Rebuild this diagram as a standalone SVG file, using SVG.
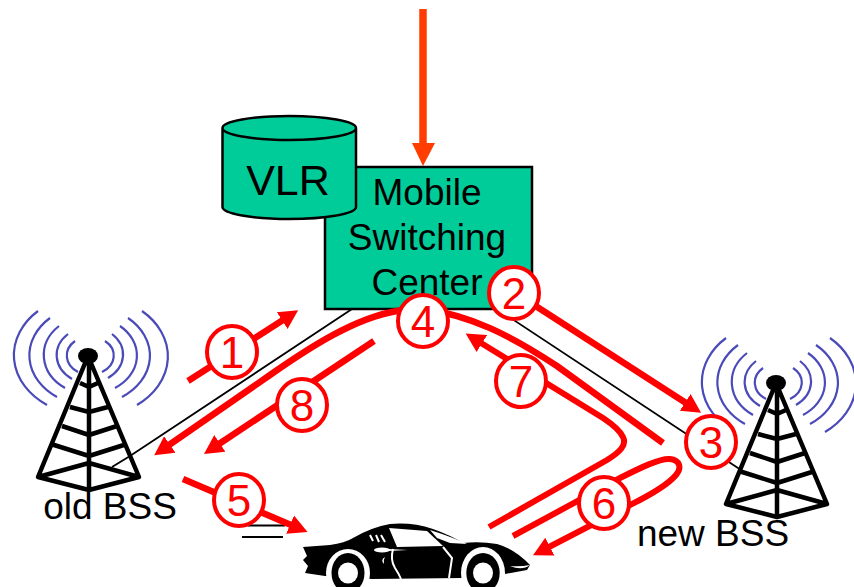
<svg xmlns="http://www.w3.org/2000/svg" width="854" height="587" viewBox="0 0 854 587">
<style>
text{font-family:"Liberation Sans",Arial,sans-serif;fill:#000}
.t{font-size:37px;text-anchor:middle}
.box{fill:#00cc99;stroke:#000;stroke-width:2.5}
.wave{fill:none;stroke:#4a4ab8;stroke-width:2.2}
.steel{fill:none;stroke:#000;stroke-width:4.500;stroke-linejoin:round}
.wire{stroke:#000;stroke-width:1.8;fill:none}
.red{fill:none;stroke:#f00;stroke-width:6.500;marker-end:url(#h)}
.plain{fill:none;stroke:#f00;stroke-width:6.500}
.c{fill:#fff;stroke:#f00;stroke-width:4}
.n{font-size:44px;text-anchor:middle;fill:#f00}
.w{fill:#fff;stroke:none}
.ws{fill:none;stroke:#fff;stroke-width:2}
</style>
<defs>
<marker id="h" markerUnits="userSpaceOnUse" markerWidth="22" markerHeight="22" refX="1" refY="11" orient="auto" viewBox="0 0 22 22"><path d="M0,1 L19,11 L0,21 Z" fill="#f00"/></marker>
<g id="tower">
<path class="wave" d="M75,341 A26 20 0 0 0 78,372 M68,334 A39 30 0 0 0 72,379 M59,326 A52 41 0 0 0 65,388 M50,318 A65 51 0 0 0 57,397 M38,311 A78 61 0 0 0 47,405"/>
<path class="wave" d="M105,341 A24 19 0 0 1 102,372 M112,334 A37 29 0 0 1 108,378 M120,326 A49 39 0 0 1 115,388 M128,318 A64 50 0 0 1 122,397 M142,311 A78 61 0 0 1 137,405"/>
<ellipse cx="88" cy="356" rx="10" ry="8" fill="#000"/>
<path class="steel" d="M88,356 L38,477 L89,490 L139,477 Z M89,356 V490 M38,477 L89,463 L139,477 M80,383 L89,387 L98,383 M70,407 L89,412 L108,407 M62,426 L89,435 L117,426 M51,444 L89,456 L127,444"/>
</g>
</defs>
<g id="connectors">
<path d="M423,9 V145" stroke="#ff3d00" stroke-width="7.500" fill="none"/>
<path d="M412,143 H435 L423,166 Z" fill="#ff3d00"/>
<path class="wire" d="M352,309 L130,456 L112,467"/>
<path class="wire" d="M497,309 L741,470"/>
<path class="wire" d="M248,525.500 H285 M242,537 H283"/>
</g>
<g id="msc">
<rect class="box" x="325" y="167" width="207" height="142"/>
<text class="t" x="427" y="205">Mobile</text>
<text class="t" x="427" y="250">Switching</text>
<text class="t" x="427" y="295">Center</text>
</g>
<g id="vlr">
<path class="box" d="M222.500,128 V207 A66.750 12 0 0 0 356,207 V128 A66.750 12 0 0 0 222.500,128 A66.750 12 0 0 0 356,128"/>
<text x="288" y="195" font-size="43" text-anchor="middle">VLR</text>
</g>
<g id="old-bss">
<use href="#tower"/>
<text class="t" x="110" y="519">old BSS</text>
</g>
<g id="new-bss">
<use href="#tower" transform="translate(688,27)"/>
<text class="t" x="713" y="546">new BSS</text>
</g>
<g id="car">
<path fill="#000" d="M303,547 L330,545 Q345,543 353,538 Q372,527 390,524 Q412,522 433,529 Q450,535 463,543 Q480,541 497,544 Q515,549 530,565 L527,570 L505,574 L462,578 L372,579 L325,576 L305,573 L308,566 L303,560 L307,556 Z"/>
<path class="w" d="M389,528 L427,531 L443,546 L397,547 Z"/>
<path class="w" d="M430,530 Q452,537 467,544 L450,543 L437,538 Z"/>
<path class="ws" d="M370,535 L373,541 M376,535 L379,542 M381,535 L385,542"/>
<ellipse class="w" cx="382" cy="550" rx="8" ry="2.500"/>
<path d="M388,549 L408,550 L388,551 Z" class="w"/>
<path class="ws" d="M393,549 Q390,560 395,568 Q399,574 401,579 M443,547 L452,558 L449,578"/>
<path d="M385,557 Q380,560 384,564 Q383,560 385,557 Z" class="w"/>
<path class="w" d="M510,566 Q520,567 530,565 Q522,571 510,566 Z"/>
<ellipse class="w" cx="348" cy="573" rx="22" ry="24"/>
<ellipse cx="348" cy="573" rx="16.500" ry="20" fill="#000"/>
<ellipse class="w" cx="348" cy="573" rx="10" ry="10.500"/>
<ellipse class="w" cx="483" cy="573" rx="22" ry="26"/>
<ellipse cx="483" cy="573" rx="16.700" ry="20" fill="#000"/>
<ellipse class="w" cx="483" cy="573" rx="10" ry="10.500"/>
</g>
<g id="signals">
<path class="red" d="M188,381 L283,320"/>
<path class="red" d="M514,292 L686,403"/>
<path class="red" d="M397,311 C355,318 310,347 270,375 L169,445"/>
<path class="plain" d="M397,311 Q410,308 423,309 C470,315 510,335 557,366 L663,443"/>
<path class="red" d="M183,479 L291,525"/>
<path class="red" style="stroke-width:6" d="M513,536 L620,478 C640,468 660,458 670,459 C680,460 682,468 676,475 C665,488 640,500 630,505 L549,547"/>
<path class="red" style="stroke-width:6" d="M489,527 L607,460 C620,452 627,445 623,437 C620,430 612,424 603,418 L481,343"/>
<path class="red" d="M374,341 L219,444"/>
</g>
<g id="step-1"><ellipse class="c" cx="232" cy="352" rx="25" ry="26"/><text class="n" x="232" y="368">1</text></g>
<g id="step-2"><ellipse class="c" cx="514" cy="293" rx="25" ry="26"/><text class="n" x="514" y="309">2</text></g>
<g id="step-3"><ellipse class="c" cx="711" cy="442" rx="25" ry="26"/><text class="n" x="711" y="458">3</text></g>
<g id="step-4"><ellipse class="c" cx="423" cy="321" rx="25" ry="26"/><text class="n" x="423" y="337">4</text></g>
<g id="step-5"><ellipse class="c" cx="239" cy="500" rx="25" ry="26"/><text class="n" x="239" y="516">5</text></g>
<g id="step-6"><ellipse class="c" cx="604" cy="503" rx="25" ry="26"/><text class="n" x="604" y="519">6</text></g>
<g id="step-7"><ellipse class="c" cx="521" cy="381" rx="25" ry="26"/><text class="n" x="521" y="397">7</text></g>
<g id="step-8"><ellipse class="c" cx="302" cy="405" rx="25" ry="26"/><text class="n" x="302" y="421">8</text></g>
</svg>
